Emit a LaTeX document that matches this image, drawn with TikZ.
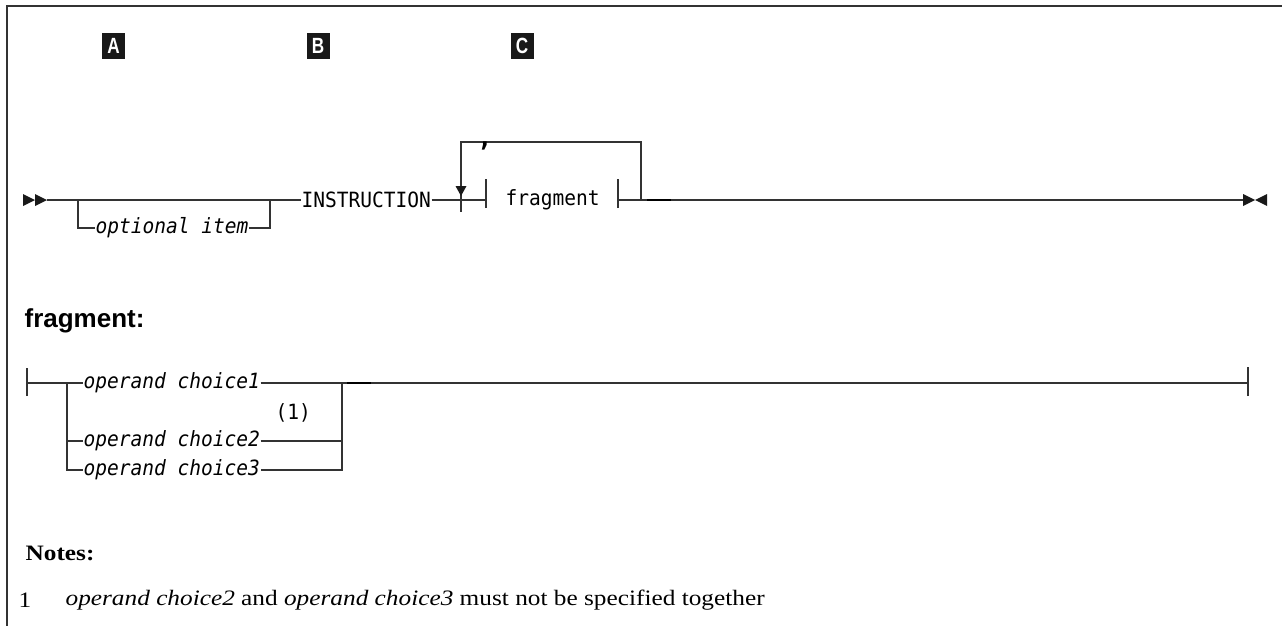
\documentclass[tikz,border=0pt]{standalone}
\usepackage{fontspec}
\setmainfont{Liberation Serif}
\setsansfont{Liberation Sans}
\setmonofont{DejaVu Sans Mono}[FakeStretch=0.93]
\newfontfamily\notefont[FakeStretch=1.15]{Liberation Serif}
\newfontfamily\lblfont[FakeStretch=0.78]{Liberation Sans}
\begin{document}
\begin{tikzpicture}[x=1pt,y=-1pt,line width=1.2pt,
  rail/.style={draw=black!80},
  mono/.style={font=\ttfamily\fontsize{21}{21}\selectfont,inner sep=0pt,anchor=west},
  monoit/.style={font=\ttfamily\itshape\fontsize{21}{21}\selectfont,inner sep=0pt,anchor=west},
  lbl/.style={fill=black!90,text=white,font=\lblfont\bfseries\fontsize{22}{22}\selectfont,minimum width=23pt,minimum height=26pt,inner sep=0pt},
  heading/.style={font=\sffamily\bfseries\fontsize{26}{26}\selectfont,inner sep=0pt,anchor=base west},
  notehead/.style={font=\notefont\bfseries\fontsize{22}{22}\selectfont,inner sep=0pt,anchor=west},
  notetext/.style={font=\notefont\fontsize{22}{22}\selectfont,inner sep=0pt,anchor=west},
  tip/.style={fill=black!90},
  thick dash/.style={draw=black,line width=2.4pt}]
\useasboundingbox (0,0) rectangle (1282,626);
\draw[rail] (7,626) -- (7,6) -- (1282,6);
% labels
\node[lbl] (lA) at (113.5,46) {A};
\node[lbl] (lB) at (318,46) {B};
\node[lbl] (lC) at (522,46) {C};
% main diagram
\coordinate (st) at (47,200);
\fill[tip] (23,194) -- (35,200) -- (23,206) -- cycle;
\fill[tip] (35,194) -- (47,200) -- (35,206) -- cycle;
\node[mono] (instr) at (301,200) {INSTRUCTION};
\node[monoit] (opt) at (95,228) {optional item};
\coordinate (ob1) at (78,200);
\coordinate (ob2) at (270,200);
\draw[rail] (st) -- (instr.west);
\draw[rail] (ob1) -- (ob1 |- opt.west) -- (opt.west);
\draw[rail] (opt.east) -- (ob2 |- opt.east) -- (ob2);
% fragment reference
\coordinate (fb1) at (486,200);
\coordinate (fb2) at (618,200);
\node[mono] (frag) at (505,200) {fragment};
\draw[rail] (instr.east) -- (fb1);
\draw[rail] ([yshift=-8pt]fb1) -- ([yshift=21pt]fb1);
\draw[rail] ([yshift=-8pt]fb2) -- ([yshift=21pt]fb2);
% repeat loop
\coordinate (lr) at (641,200);
\coordinate (ll) at (461,200);
\coordinate (lt) at (641,142);
\coordinate (ltl) at (461,142);
\draw[rail] (lr) -- (lt) -- (ltl) -- ([yshift=-12pt]ll);
\fill[tip] (455.5,186) -- (466.5,186) -- (461,196) -- cycle;
\node[font=\ttfamily\bfseries\fontsize{26}{26}\selectfont,inner sep=0pt,anchor=base] (comma) at (485,146) {,};
% continuation to end
\coordinate (en) at (1243,200);
\draw[rail] (fb2) -- (en);
\draw[thick dash] (647,200) -- (671,200);
\fill[tip] (1243,194) -- (1255,200) -- (1243,206) -- cycle;
\fill[tip] (1267,194) -- (1255,200) -- (1267,206) -- cycle;
% fragment definition
\node[heading] (fh) at (24,327) {fragment:};
\coordinate (fs) at (27,383);
\node[monoit] (c1) at (83,383) {operand choice1};
\node[monoit] (c2) at (83,441) {operand choice2};
\node[monoit] (c3) at (83,470) {operand choice3};
\node[mono] (n1) at (275,413) {(1)};
\coordinate (bl) at (67,383);
\coordinate (br) at (342,383);
\coordinate (fe) at (1248,383);
\draw[rail] ([yshift=-13pt]fs) -- ([yshift=15pt]fs);
\draw[rail] (fs) -- (c1.west);
\draw[rail] (bl) -- (bl |- c3.west) -- (c3.west);
\draw[rail] (bl |- c2.west) -- (c2.west);
\draw[rail] (c1.east) -- (br) -- (br |- c3.east) -- (c3.east);
\draw[rail] (c2.east) -- (br |- c2.east);
\draw[rail] (br) -- (fe);
\draw[thick dash] (347,383) -- (371,383);
\draw[rail] ([yshift=-13pt]fe) -- ([yshift=16pt]fe);
% notes
\node[notehead] (nh) at (25,553) {Notes:};
\node[notetext] (nn) at (18,600) {1};
\node[notetext] (nt) at (65,600) {\textit{operand choice2} and \textit{operand choice3} must not be specified together};
\end{tikzpicture}
\end{document}
